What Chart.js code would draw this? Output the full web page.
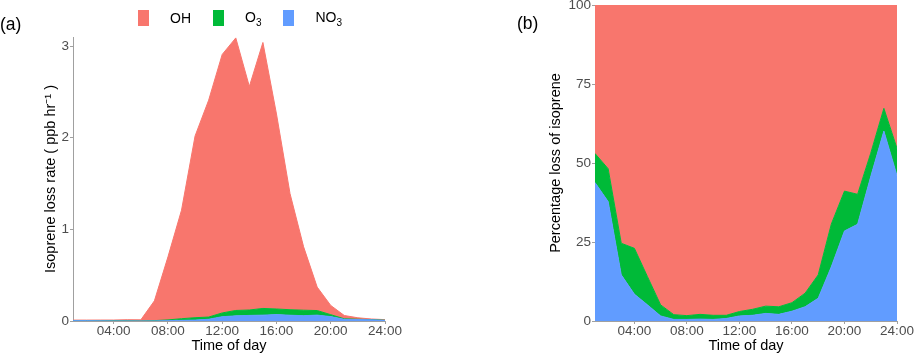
<!DOCTYPE html>
<html>
<head>
<meta charset="utf-8">
<script src="https://cdn.jsdelivr.net/npm/chart.js@4.4.1/dist/chart.umd.min.js"></script>
<style>
  body { margin: 0; width: 916px; height: 356px; background: #fff; position: relative; overflow: hidden;
         font-family: "Liberation Sans", Arial, sans-serif; }
  .wrap { position: absolute; top: 0; height: 356px; }
  #wrapA { left: 0; width: 420px; }
  #wrapB { left: 500px; width: 416px; }
  .tag { position: absolute; font-size: 17.5px; color: #000; line-height: 1; }
  #legend { position: absolute; left: 138px; top: 9px; display: flex; align-items: center; font-size: 14px; color: #000; }
  #legend .box { width: 11px; height: 16px; }
  #legend .txt { margin-left: 21px; margin-right: 22px; }
  #legend sub { font-size: 10px; }
</style>
</head>
<body>
<div class="wrap" id="wrapA"><canvas id="chartA" width="420" height="356"></canvas></div>
<div class="wrap" id="wrapB"><canvas id="chartB" width="416" height="356"></canvas></div>
<div class="tag" style="left:0px;top:16px;">(a)</div>
<div class="tag" style="left:517px;top:15px;">(b)</div>
<div id="legend">
  <div class="box" style="background:#F8766D"></div><div class="txt">OH</div>
  <div class="box" style="background:#00BA38"></div><div class="txt">O<sub>3</sub></div>
  <div class="box" style="background:#619CFF"></div><div class="txt">NO<sub>3</sub></div>
</div>
<script>
// hour of day (1..24)
const hours = [1, 2, 3, 4, 5, 6, 7, 8, 9, 10, 11, 12, 13, 14, 15, 16, 17, 18, 19, 20, 21, 22, 23, 24];

// (a) loss rates, ppb/hr
const ohRate  = [0.005, 0.005, 0.008, 0.008, 0.012, 0.012, 0.216, 0.688, 1.185, 1.984, 2.367, 2.822,
                 2.975, 2.440, 2.903, 2.129, 1.267, 0.692, 0.256, 0.101, 0.036, 0.016, 0.007, 0.007];
const o3Rate  = [0.001, 0.001, 0.001, 0.0015, 0.001, 0.0005, 0.003, 0.008, 0.018, 0.026, 0.024, 0.041,
                 0.059, 0.059, 0.073, 0.061, 0.060, 0.060, 0.050, 0.021, 0.006, 0.003, 0.002, 0.001];
const no3Rate = [0.004, 0.004, 0.0015, 0.001, 0.001, 0.0002, 0.001, 0.004, 0.007, 0.010, 0.019, 0.047,
                 0.056, 0.061, 0.064, 0.070, 0.063, 0.058, 0.064, 0.048, 0.018, 0.016, 0.013, 0.007];

// (b) percentage of loss
const ohShare  = [47.0, 51.8, 75.4, 77.0, 86.0, 94.9, 98.0, 98.3, 97.9, 98.2, 98.2, 97.0,
                  96.3, 95.3, 95.5, 94.2, 91.2, 85.4, 69.3, 58.9, 59.9, 46.9, 32.7, 45.4];
const o3Share  = [9.2, 10.4, 10.0, 14.5, 8.9, 3.5, 1.5, 1.2, 1.5, 1.3, 1.0, 1.4,
                  1.9, 2.3, 2.4, 2.7, 4.3, 7.4, 13.5, 12.6, 9.5, 7.4, 7.2, 8.6];
const no3Share = [43.8, 37.8, 14.6, 8.5, 5.1, 1.6, 0.5, 0.5, 0.6, 0.5, 0.8, 1.6,
                  1.8, 2.4, 2.1, 3.1, 4.5, 7.2, 17.2, 28.5, 30.6, 45.7, 60.1, 46.0];

const timeTicks  = [4, 8, 12, 16, 20, 24];
const timeLabels = ["04:00", "08:00", "12:00", "16:00", "20:00", "24:00"];
const rateTicks  = [0, 1, 2, 3];
const shareTicks = [0, 25, 50, 75, 100];

const colOH = "#F8766D", colO3 = "#00BA38", colNO3 = "#619CFF";
const axisGrey = "#A0A0A0", tickText = "#4D4D4D";
Chart.defaults.font.family = '"Liberation Sans", Arial, sans-serif';

function area(label, values, colour, fill) {
    return {
        label: label,
        data: hours.map((h, i) => ({ x: h, y: values[i] })),
        backgroundColor: colour,
        borderColor: colour,
        borderWidth: 1,
        pointRadius: 0,
        tension: 0,
        fill: fill
    };
}

function xAxis() {
    return {
        type: 'linear', min: 1, max: 24,
        afterBuildTicks: s => { s.ticks = timeTicks.map(v => ({ value: v })); },
        afterFit: s => { s.height = 35; },
        ticks: {
            color: tickText, font: { size: 13.5 }, padding: -1, maxRotation: 0, autoSkip: false,
            callback: (v, i) => timeLabels[i]
        },
        grid: { drawOnChartArea: false, tickLength: 3, tickColor: axisGrey },
        border: { color: axisGrey },
        title: { display: true, text: 'Time of day', color: '#000', font: { size: 14.5 }, padding: { top: 0, bottom: 1 } }
    };
}

function yAxis(max, tickList, titleText, width) {
    return {
        stacked: true, min: 0, max: max,
        afterBuildTicks: s => { s.ticks = tickList.map(v => ({ value: v })); },
        afterFit: s => { s.width = width; s.paddingTop = 0; },
        ticks: { color: tickText, font: { size: 13.5 }, padding: 1 },
        grid: { drawOnChartArea: false, tickLength: 3, tickColor: axisGrey },
        border: { color: axisGrey },
        title: { display: true, text: titleText, color: '#000', font: { size: 14.5 }, padding: { top: 4, bottom: 0 } }
    };
}

new Chart(document.getElementById('chartA'), {
    type: 'line',
    data: {
        datasets: [
            area('NO3', no3Rate, colNO3, 'origin'),
            area('O3', o3Rate, colO3, '-1'),
            area('OH', ohRate, colOH, '-1')
        ]
    },
    options: {
        responsive: false,
        animation: false,
        layout: { padding: { left: 38, right: 35, top: 37, bottom: 0 } },
        scales: {
            x: xAxis(),
            y: yAxis(3.1, rateTicks, 'Isoprene loss rate ( ppb hr\u207B\u00B9 )', 35)
        },
        plugins: { legend: { display: false }, tooltip: { enabled: false } }
    }
});

new Chart(document.getElementById('chartB'), {
    type: 'line',
    data: {
        datasets: [
            area('NO3', no3Share, colNO3, 'origin'),
            area('O3', o3Share, colO3, '-1'),
            area('OH', ohShare, colOH, '-1')
        ]
    },
    options: {
        responsive: false,
        animation: false,
        layout: { padding: { left: 43, right: 19, top: 5, bottom: 0 } },
        scales: {
            x: xAxis(),
            y: yAxis(100, shareTicks, 'Percentage loss of isoprene', 52)
        },
        plugins: { legend: { display: false }, tooltip: { enabled: false } }
    }
});
</script>
</body>
</html>
